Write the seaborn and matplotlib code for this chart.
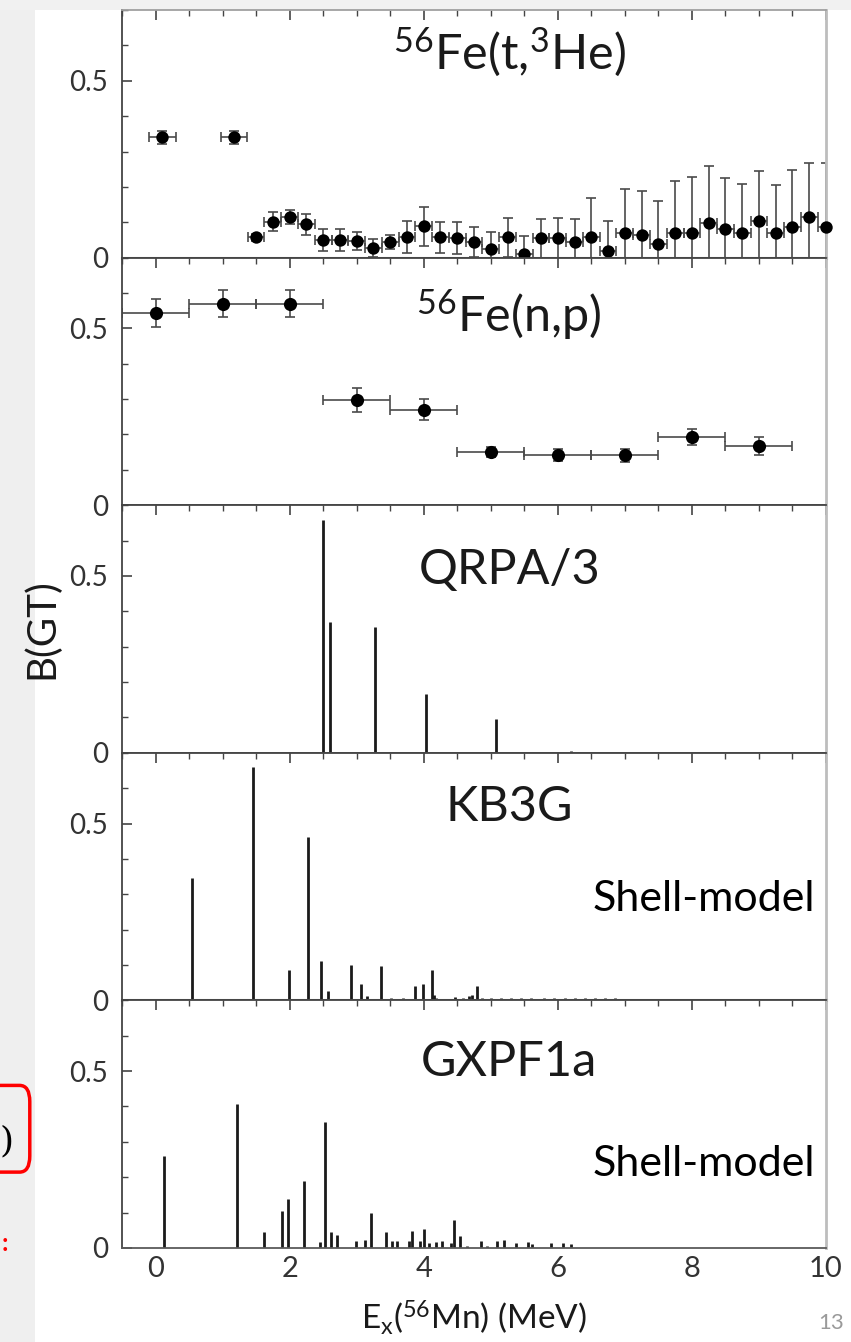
import numpy as np
import seaborn as sns
import matplotlib as mpl
import matplotlib.pyplot as plt
from matplotlib.patches import Rectangle, FancyBboxPatch
from matplotlib.ticker import MultipleLocator, FixedLocator

############################# DATA #############################

# 56Fe(t,3He) : two low-lying bins, then 0.25 MeV bins from 1.5 to 10 MeV
tHe_x = [0.10, 1.17,
         1.50, 1.75, 2.00, 2.25, 2.50, 2.75, 3.00, 3.25, 3.50, 3.75,
         4.00, 4.25, 4.50, 4.75, 5.00, 5.25, 5.50, 5.75, 6.00, 6.25,
         6.50, 6.75, 7.00, 7.25, 7.50, 7.75, 8.00, 8.25, 8.50, 8.75,
         9.00, 9.25, 9.50, 9.75, 10.00]
tHe_y = [0.340, 0.340,
         0.057, 0.102, 0.114, 0.094, 0.050, 0.050, 0.048, 0.027, 0.045, 0.058,
         0.089, 0.057, 0.055, 0.044, 0.025, 0.057, 0.010, 0.055, 0.055, 0.045,
         0.057, 0.020, 0.070, 0.063, 0.039, 0.070, 0.070, 0.099, 0.082, 0.070,
         0.103, 0.069, 0.086, 0.116, 0.088]
tHe_yerr = [0.018, 0.018,
            0.010, 0.028, 0.020, 0.030, 0.030, 0.030, 0.025, 0.025, 0.020, 0.045,
            0.055, 0.043, 0.046, 0.042, 0.047, 0.055, 0.050, 0.055, 0.057, 0.063,
            0.113, 0.085, 0.124, 0.125, 0.120, 0.148, 0.157, 0.159, 0.143, 0.139,
            0.143, 0.135, 0.163, 0.152, 0.180]
tHe_xerr = [0.2, 0.2] + [0.125] * 35

# 56Fe(n,p) : 1 MeV bins
np_x = [0, 1, 2, 3, 4, 5, 6, 7, 8, 9]
np_y = [0.543, 0.570, 0.570, 0.297, 0.270, 0.151, 0.141, 0.141, 0.193, 0.167]
np_yerr = [0.040, 0.038, 0.038, 0.034, 0.030, 0.014, 0.017, 0.018, 0.022, 0.026]
np_xerr = [0.5] * 10

# QRPA/3 strengths
qrpa_x = [2.50, 2.60, 3.28, 4.04, 5.08, 6.20]
qrpa_b = [0.658, 0.370, 0.356, 0.166, 0.095, 0.005]

# KB3G shell model
kb3g_x = [0.54, 1.45, 1.99, 2.27, 2.47, 2.57, 2.92, 3.06, 3.15, 3.36,
          3.51, 3.69, 3.87, 3.99, 4.12, 4.15, 4.19, 4.47, 4.58, 4.67,
          4.72, 4.80, 4.87, 5.00, 5.15, 5.30, 5.45, 5.60, 5.80, 5.95,
          6.10, 6.25, 6.40, 6.55, 6.70, 6.85]
kb3g_b = [0.347, 0.659, 0.087, 0.462, 0.111, 0.027, 0.100, 0.047, 0.012, 0.096,
          0.006, 0.007, 0.041, 0.047, 0.085, 0.015, 0.008, 0.010, 0.008, 0.012,
          0.015, 0.040, 0.007, 0.007, 0.008, 0.006, 0.007, 0.008, 0.006, 0.007,
          0.008, 0.006, 0.007, 0.006, 0.007, 0.006]

# GXPF1a shell model
gx_x = [0.13, 1.21, 1.62, 1.89, 1.97, 2.22, 2.45, 2.52, 2.61, 2.71,
        2.99, 3.13, 3.22, 3.44, 3.53, 3.60, 3.78, 3.83, 3.95, 4.00,
        4.08, 4.19, 4.27, 4.40, 4.45, 4.54, 4.65, 4.85, 4.95, 5.10,
        5.20, 5.37, 5.55, 5.62, 5.90, 6.08, 6.19]
gx_b = [0.260, 0.407, 0.046, 0.105, 0.137, 0.189, 0.016, 0.355, 0.046, 0.036,
        0.019, 0.023, 0.100, 0.044, 0.020, 0.020, 0.020, 0.049, 0.020, 0.054,
        0.015, 0.018, 0.020, 0.015, 0.079, 0.035, 0.006, 0.020, 0.006, 0.020,
        0.022, 0.015, 0.018, 0.012, 0.015, 0.014, 0.010]

panel_names = [r'$^{56}$Fe(t,$^{3}$He)', r'$^{56}$Fe(n,p)', 'QRPA/3', 'KB3G', 'GXPF1a']
name_ypos = [0.83, 0.77, 0.74, 0.78, 0.75]

############################# STYLE #############################

sns.set_style('white')
plt.rcParams['font.family'] = ['Lato', 'DejaVu Sans']
plt.rcParams['mathtext.fontset'] = 'custom'
plt.rcParams['mathtext.rm'] = 'Lato'
plt.rcParams['mathtext.default'] = 'regular'

ink = '#1a1a1a'
barc = '#4a4a4a'

############################# PLOT #############################

fig, axes = plt.subplots(5, 1, figsize=(8.51, 13.42), dpi=100, sharex=True,
                         gridspec_kw={'hspace': 0})
fig.subplots_adjust(left=0.1434, right=0.9706, top=0.9925, bottom=0.0701)

# slide background bits around the figure
fig.patches.append(Rectangle((0, 0), 0.041, 1, transform=fig.transFigure,
                             facecolor='#efefef', edgecolor='none', zorder=-5))
fig.patches.append(Rectangle((0, 0.9925), 1, 0.0075, transform=fig.transFigure,
                             facecolor='#f1f1f1', edgecolor='none', zorder=-5))
fig.patches.append(FancyBboxPatch((-0.05, 0.1266), 0.085, 0.0646,
                                  boxstyle='round,pad=0,rounding_size=0.012',
                                  transform=fig.transFigure, facecolor='none',
                                  edgecolor='red', linewidth=2.5, zorder=5))
fig.text(0.0, 0.142, ')', fontsize=26, family='DejaVu Serif', color='black')
fig.text(0.002, 0.068, ':', fontsize=18, color='red', fontweight='bold')
fig.text(0.962, 0.010, '13', fontsize=16, color='#9a9a9a')

# (t,3He)
ax = axes[0]
ax.errorbar(tHe_x, tHe_y, yerr=tHe_yerr, xerr=tHe_xerr, fmt='none',
            ecolor=barc, elinewidth=1.2, capsize=3.5, capthick=1.2, zorder=2)
sns.scatterplot(x=tHe_x, y=tHe_y, ax=ax, color='black', s=80,
                edgecolor='black', linewidth=0, zorder=3, clip_on=False)

# (n,p)
ax = axes[1]
ax.errorbar(np_x, np_y, yerr=np_yerr, xerr=np_xerr, fmt='none',
            ecolor=barc, elinewidth=1.2, capsize=3.5, capthick=1.2, zorder=2)
sns.scatterplot(x=np_x, y=np_y, ax=ax, color='black', s=90,
                edgecolor='black', linewidth=0, zorder=3)

# theory stick spectra
for ax, xs, bs in zip(axes[2:], [qrpa_x, kb3g_x, gx_x], [qrpa_b, kb3g_b, gx_b]):
    ax.vlines(xs, 0, bs, color=ink, linewidth=2.0)

for i, ax in enumerate(axes):
    ax.set_xlim(-0.5, 10)
    ax.set_ylim(0, 0.7)
    ax.yaxis.set_major_locator(FixedLocator([0, 0.5]))
    ax.set_yticklabels(['0', '0.5'])
    ax.yaxis.set_minor_locator(MultipleLocator(0.1))
    ax.xaxis.set_major_locator(MultipleLocator(2))
    ax.xaxis.set_minor_locator(MultipleLocator(0.5))
    ax.tick_params(axis='y', which='both', direction='in', left=True, right=False,
                   colors='#444444', labelcolor='#333333', labelsize=20, pad=10)
    ax.tick_params(axis='y', which='major', length=7, width=1.2)
    ax.tick_params(axis='y', which='minor', length=4.5, width=1.0)
    ax.tick_params(axis='x', which='both', direction='in', top=True, bottom=False,
                   colors='#444444', labelcolor='#333333', labelsize=21, pad=6)
    ax.tick_params(axis='x', which='major', length=7, width=1.2)
    ax.tick_params(axis='x', which='minor', length=4.5, width=1.0)
    for side in ['left', 'top']:
        ax.spines[side].set_color('#444444')
        ax.spines[side].set_linewidth(1.3)
    ax.spines['right'].set_color('#bdbdbd')
    ax.spines['right'].set_linewidth(2)
    ax.spines['bottom'].set_color('#5a5a5a')
    ax.spines['bottom'].set_linewidth(2.2 if i in (0, 3) else 1.3)
    ax.text(0.55, name_ypos[i], panel_names[i], transform=ax.transAxes,
            ha='center', va='center', fontsize=35, color=ink)

axes[0].spines['top'].set_color('#a0a0a0')
axes[4].tick_params(axis='x', labelbottom=True)

for ax, yp in zip(axes[3:], [0.41, 0.34]):
    ax.text(0.985, yp, 'Shell-model', transform=ax.transAxes, ha='right',
            va='center', fontsize=31, color='black')

axes[2].set_ylabel('B(GT)', fontsize=29, color=ink)
axes[2].yaxis.set_label_coords(-0.088, 0.5)
axes[4].set_xlabel(r'E$_{\rm x}$($^{56}$Mn) (MeV)', fontsize=24, color=ink,
                   labelpad=12)

fig.savefig('out.png', dpi=100)
